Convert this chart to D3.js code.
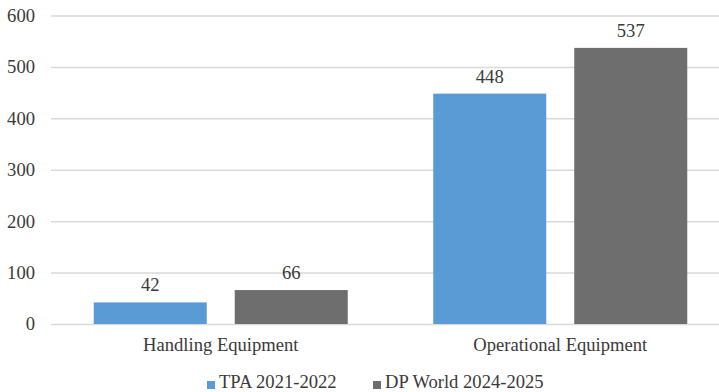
<!DOCTYPE html>
<html>
<head>
<meta charset="utf-8">
<script src="https://cdn.jsdelivr.net/npm/d3@7"></script>
<style>
  html, body { margin: 0; padding: 0; background: #fff; }
  svg { display: block; font-family: "Liberation Serif", "Times New Roman", serif; }
</style>
</head>
<body>
<svg id="chart" width="719" height="392"></svg>
<script>
// Equipment counts by category and period
const categories = ["Handling Equipment", "Operational Equipment"];
const seriesNames = ["TPA 2021-2022", "DP World 2024-2025"];
const tpaValues = [42, 448];
const dpWorldValues = [66, 537];
const yTicks = [0, 100, 200, 300, 400, 500, 600];

const seriesValues = [tpaValues, dpWorldValues];
const colors = ["#5b9bd5", "#6e6e6e"];
const textColor = "#3a3a3a";
const fontSize = "18.6px";
const serif = "'Liberation Serif', 'Times New Roman', serif";

const svg = d3.select("#chart");

const plotLeft = 51, plotRight = 730, plotTop = 15.5, plotBottom = 324;

const y = d3.scaleLinear().domain([0, 600]).range([plotBottom, plotTop]);

const x0 = d3.scaleBand()
  .domain(categories)
  .range([plotLeft, plotRight])
  .paddingInner(0).paddingOuter(0);

const outerGap = 42.75;
const x1 = d3.scaleBand()
  .domain(seriesNames)
  .range([outerGap, x0.bandwidth() - outerGap])
  .paddingInner(28 / 141)
  .paddingOuter(0);

// Gridlines and y tick labels
const yAxis = d3.axisLeft(y)
  .tickValues(yTicks)
  .tickSize(-(plotRight - plotLeft))
  .tickPadding(16)
  .tickFormat(d3.format("d"));

const gy = svg.append("g")
  .attr("transform", `translate(${plotLeft},0)`)
  .call(yAxis);
gy.select(".domain").remove();
gy.selectAll(".tick line")
  .attr("stroke", "#d9d9d9")
  .attr("stroke-width", 1.5);
gy.selectAll(".tick text")
  .attr("fill", textColor)
  .style("font-size", fontSize)
  .style("font-family", serif);

// Bars
const groups = svg.append("g").selectAll("g")
  .data(categories)
  .join("g")
  .attr("transform", d => `translate(${x0(d)},0)`);

groups.selectAll("rect")
  .data((d, i) => seriesNames.map((s, j) => ({ s, j, v: seriesValues[j][i] })))
  .join("rect")
  .attr("x", d => x1(d.s))
  .attr("width", x1.bandwidth())
  .attr("y", d => y(d.v))
  .attr("height", d => y(0) - y(d.v))
  .attr("fill", d => colors[d.j]);

// Value labels
groups.selectAll("text.value")
  .data((d, i) => seriesNames.map((s, j) => ({ s, j, v: seriesValues[j][i] })))
  .join("text")
  .attr("class", "value")
  .attr("x", d => x1(d.s) + x1.bandwidth() / 2)
  .attr("y", d => y(d.v) - 11)
  .attr("text-anchor", "middle")
  .attr("fill", textColor)
  .style("font-size", fontSize)
  .text(d => d.v);

// Category labels
const xAxis = d3.axisBottom(x0).tickSize(0).tickPadding(14);
const gx = svg.append("g")
  .attr("transform", `translate(0,${plotBottom})`)
  .call(xAxis);
gx.select(".domain").remove();
gx.selectAll(".tick text")
  .attr("fill", textColor)
  .style("font-size", fontSize)
  .style("font-family", serif);

// Legend
const legendX = [207, 373];
const legend = svg.append("g").selectAll("g")
  .data(seriesNames)
  .join("g")
  .attr("transform", (d, i) => `translate(${legendX[i]},0)`);
legend.append("rect")
  .attr("x", 0).attr("y", 381)
  .attr("width", 8).attr("height", 8)
  .attr("fill", (d, i) => colors[i]);
legend.append("text")
  .attr("x", 12).attr("y", 388)
  .attr("fill", textColor)
  .style("font-size", fontSize)
  .text(d => d);
</script>
</body>
</html>
